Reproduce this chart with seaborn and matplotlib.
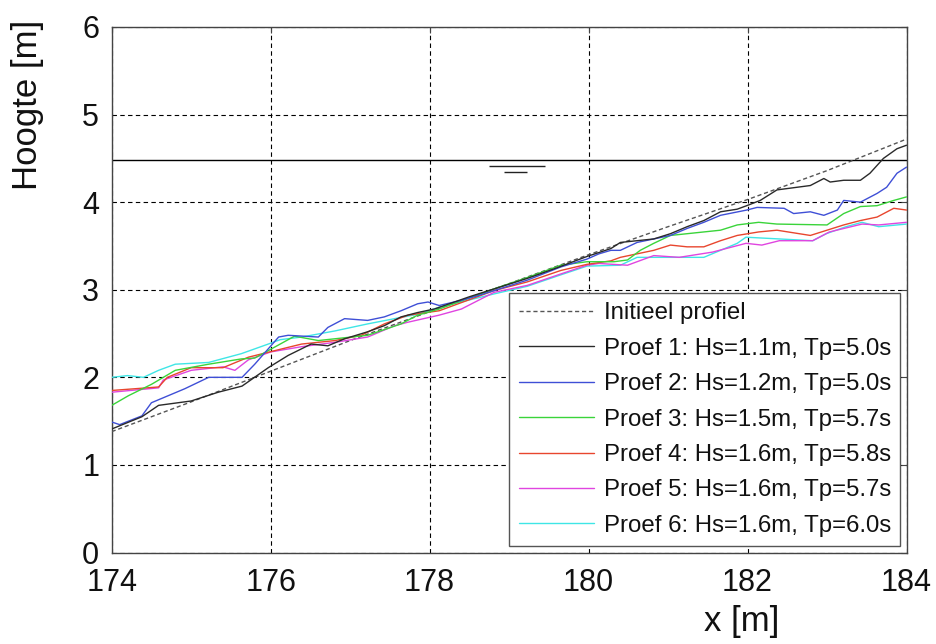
import matplotlib
matplotlib.use("Agg")
import matplotlib.pyplot as plt
import seaborn as sns
import numpy as np

# ---------------- data ----------------
init_x = [174.0, 175.0, 176.0, 177.0, 178.0, 179.0, 180.0, 181.0, 182.0, 183.0, 184.0]
init_y = [1.38, 1.72, 2.07, 2.42, 2.75, 3.07, 3.40, 3.72, 4.03, 4.36, 4.72]

p1_x = [174.0, 174.38, 174.59, 175.0, 175.34, 175.64, 175.97, 176.22, 176.51, 176.72, 176.93,
        177.22, 177.43, 177.64, 177.85, 178.06, 178.5, 179.23, 179.6, 179.98, 180.28, 180.4,
        180.82, 181.03, 181.24, 181.45, 181.66, 181.87, 181.99, 182.16, 182.37, 182.79, 182.96,
        183.04, 183.21, 183.42, 183.54, 183.71, 183.88, 184.0]
p1_y = [1.41, 1.55, 1.68, 1.73, 1.83, 1.90, 2.11, 2.25, 2.38, 2.36, 2.44,
        2.52, 2.59, 2.69, 2.74, 2.78, 2.92, 3.13, 3.25, 3.38, 3.47, 3.54,
        3.58, 3.64, 3.72, 3.79, 3.89, 3.92, 3.96, 4.02, 4.14, 4.19, 4.27,
        4.23, 4.25, 4.25, 4.33, 4.50, 4.61, 4.65]

p2_x = [174.0, 174.1, 174.38, 174.5, 174.92, 175.22, 175.64, 175.8, 176.1, 176.22, 176.6,
        176.72, 176.93, 177.22, 177.43, 177.64, 177.85, 177.98, 178.12, 178.4, 178.6, 179.23,
        179.65, 179.98, 180.13, 180.28, 180.4, 180.61, 180.82, 181.03, 181.24, 181.45, 181.66,
        181.99, 182.12, 182.46, 182.58, 182.79, 182.96, 183.13, 183.21, 183.42, 183.63, 183.75,
        183.88, 184.0]
p2_y = [1.49, 1.46, 1.56, 1.71, 1.87, 2.00, 2.00, 2.15, 2.46, 2.48, 2.46,
        2.57, 2.67, 2.65, 2.69, 2.76, 2.84, 2.86, 2.82, 2.88, 2.93, 3.11,
        3.26, 3.35, 3.41, 3.45, 3.45, 3.54, 3.58, 3.62, 3.70, 3.77, 3.85,
        3.91, 3.94, 3.93, 3.87, 3.89, 3.85, 3.91, 4.02, 4.00, 4.10, 4.17,
        4.33, 4.40]

p3_x = [174.0, 174.21, 174.5, 174.8, 175.22, 175.63, 175.8, 176.12, 176.3, 176.6, 177.22,
        177.64, 177.85, 178.12, 178.81, 179.23, 179.65, 179.98, 180.32, 180.49, 180.65, 180.82,
        181.03, 181.24, 181.66, 181.87, 182.14, 182.37, 183.0, 183.21, 183.42, 183.63, 183.84,
        184.0]
p3_y = [1.68, 1.79, 1.92, 2.08, 2.15, 2.21, 2.22, 2.38, 2.47, 2.42, 2.48,
        2.61, 2.71, 2.78, 3.01, 3.14, 3.28, 3.32, 3.32, 3.34, 3.45, 3.53,
        3.62, 3.64, 3.68, 3.74, 3.77, 3.75, 3.74, 3.87, 3.95, 3.96, 4.02,
        4.06]

p4_x = [174.0, 174.59, 174.7, 175.0, 175.4, 175.72, 176.12, 176.39, 176.81, 177.14, 177.43,
        177.73, 178.12, 178.81, 179.23, 179.65, 179.98, 180.28, 180.4, 180.82, 181.03, 181.24,
        181.45, 181.66, 181.87, 182.14, 182.37, 182.79, 183.0, 183.21, 183.42, 183.63, 183.84,
        184.0]
p4_y = [1.85, 1.89, 2.00, 2.11, 2.11, 2.23, 2.32, 2.38, 2.42, 2.48, 2.61,
        2.71, 2.76, 2.99, 3.09, 3.22, 3.29, 3.33, 3.37, 3.45, 3.51, 3.49,
        3.49, 3.56, 3.62, 3.66, 3.68, 3.62, 3.68, 3.74, 3.79, 3.83, 3.93,
        3.91]

p5_x = [174.0, 174.59, 174.65, 175.0, 175.4, 175.55, 175.72, 176.0, 176.39, 176.81, 177.22,
        177.56, 177.73, 178.12, 178.4, 178.81, 179.23, 179.65, 179.98, 180.13, 180.49, 180.82,
        181.14, 181.56, 181.98, 182.18, 182.4, 182.82, 183.03, 183.44, 183.65, 184.0]
p5_y = [1.83, 1.88, 1.97, 2.08, 2.12, 2.08, 2.20, 2.29, 2.35, 2.40, 2.46,
        2.59, 2.63, 2.71, 2.78, 2.97, 3.05, 3.18, 3.28, 3.30, 3.28, 3.39,
        3.37, 3.43, 3.53, 3.51, 3.56, 3.56, 3.66, 3.75, 3.74, 3.77]

p6_x = [174.0, 174.2, 174.4, 174.59, 174.8, 175.22, 175.63, 175.97, 176.12, 176.39, 176.81,
        177.22, 177.56, 177.85, 178.12, 178.8, 179.23, 179.65, 179.98, 180.4, 180.61, 181.03,
        181.45, 181.66, 181.87, 181.98, 182.4, 182.82, 182.99, 183.24, 183.44, 183.65, 184.0]
p6_y = [2.00, 2.02, 2.00, 2.08, 2.15, 2.17, 2.27, 2.38, 2.43, 2.46, 2.53,
        2.61, 2.67, 2.72, 2.80, 2.95, 3.04, 3.17, 3.27, 3.28, 3.37, 3.37,
        3.37, 3.45, 3.53, 3.60, 3.58, 3.56, 3.64, 3.72, 3.77, 3.72, 3.75]

labels = ["Initieel profiel",
          "Proef 1: Hs=1.1m, Tp=5.0s",
          "Proef 2: Hs=1.2m, Tp=5.0s",
          "Proef 3: Hs=1.5m, Tp=5.7s",
          "Proef 4: Hs=1.6m, Tp=5.8s",
          "Proef 5: Hs=1.6m, Tp=5.7s",
          "Proef 6: Hs=1.6m, Tp=6.0s"]
colors = ["#555555", "#2a2a2a", "#3f4fd6", "#3ad43a", "#e8462e", "#e045e0", "#3fe6e6"]

water_level = 4.48
water_symbol_x = 179.1
x_ticks = [174, 176, 178, 180, 182, 184]
y_ticks = [0, 1, 2, 3, 4, 5, 6]

# ---------------- style ----------------
sns.set_style("white")
plt.rcParams['font.family'] = ['Liberation Sans', 'DejaVu Sans']

W, H = 936, 644
fig = plt.figure(figsize=(W / 100, H / 100), dpi=100)
L, R, T, B = 111.7, 906.5, 27.0, 552.5
ax = fig.add_axes([L / W, 1 - B / H, (R - L) / W, (B - T) / H])

series = [(init_x, init_y), (p1_x, p1_y), (p2_x, p2_y), (p3_x, p3_y),
          (p4_x, p4_y), (p5_x, p5_y), (p6_x, p6_y)]
for i, ((xs, ys), lab, col) in enumerate(zip(series, labels, colors)):
    ls = (0, (3, 2)) if i == 0 else "-"
    sns.lineplot(x=xs, y=ys, ax=ax, color=col, linewidth=1.0, linestyle=ls,
                 label=lab, sort=False, estimator=None, zorder=3 + (0 if i == 0 else 7 - i))

# water level and symbol
ax.axhline(water_level, color="black", linewidth=1.0, zorder=2)
ax.hlines(water_level - 0.065, water_symbol_x - 0.35, water_symbol_x + 0.35,
          color="#222222", linewidth=1.0, zorder=2)
ax.hlines(water_level - 0.14, water_symbol_x - 0.17, water_symbol_x + 0.12,
          color="#222222", linewidth=1.0, zorder=2)

ax.set_xlim(174, 184)
ax.set_ylim(0, 6)
ax.set_xticks(x_ticks)
ax.set_yticks(y_ticks)
ax.set_xticklabels([str(v) for v in x_ticks])
ax.set_yticklabels([str(v) for v in y_ticks])

ax.grid(True, color="black", linestyle=(0, (4, 3)), linewidth=0.8)
ax.set_axisbelow(True)
for s in ax.spines.values():
    s.set_color("#444444")
    s.set_linewidth(1.0)
    s.set_visible(True)

ax.tick_params(axis="both", direction="in", length=4, width=0.8, color="#444444",
               top=True, right=True, labelsize=22, labelcolor="#111111")
ax.tick_params(axis="x", pad=11)
ax.tick_params(axis="y", pad=9)

ax.set_xlabel("x [m]", fontsize=25, color="#111111")
ax.set_ylabel("Hoogte [m]", fontsize=25, color="#111111")
ax.xaxis.set_label_coords((742 - L) / (R - L), -(622 - B) / (B - T), transform=ax.transAxes)
ax.yaxis.set_label_coords(-(L - 27) / (R - L), (B - 105) / (B - T))
ax.xaxis.label.set_va("center")
ax.yaxis.label.set_va("center")

leg = ax.legend(loc="lower right", fontsize=17.3, frameon=True, fancybox=False,
                edgecolor="#555555", framealpha=1.0, handlelength=3.1,
                handletextpad=0.42, labelspacing=0.56, borderpad=0.4,
                borderaxespad=0.25)
leg.get_frame().set_linewidth(1.0)
for t in leg.get_texts():
    t.set_color("#111111")

fig.savefig("out.png", dpi=100)
